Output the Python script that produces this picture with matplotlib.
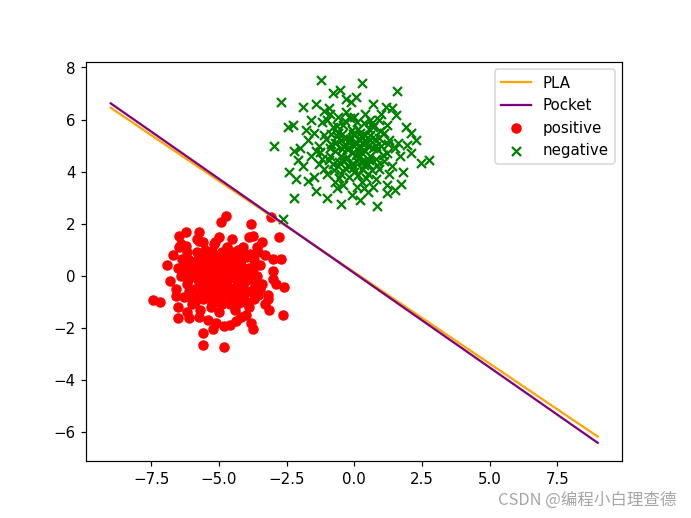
import matplotlib.pyplot as plt

# 直线两端点
line_x = [-9, 9]
pla_y = [6.45, -6.18]
pocket_y = [6.62, -6.42]

# 正样本 (红点)
pos = [
    (-5.0, 0.1), (-4.8, -0.3), (-5.3, 0.4), (-4.6, 0.2), (-5.5, -0.2), (-4.9, 0.6), (-5.2, -0.6), (-4.4, -0.1), (-5.7, 0.3), (-4.7, -0.7),
    (-5.1, -0.9), (-4.3, 0.5), (-5.9, -0.5), (-4.5, 0.9), (-5.4, 0.8), (-4.1, -0.4), (-6.0, 0.1), (-4.2, 0.2), (-5.6, -0.9), (-4.9, -1.1),
    (-3.9, 0.3), (-6.2, -0.3), (-5.3, -1.2), (-4.6, -0.9), (-3.8, -0.6), (-6.1, 0.6), (-5.8, 0.9), (-4.0, 0.7), (-4.4, -1.3), (-5.0, -1.4),
    (-3.6, 0.0), (-6.4, 0.0), (-5.5, 1.0), (-4.7, 1.1), (-3.7, -0.9), (-6.3, -0.8), (-3.5, 0.4), (-5.2, 1.2), (-4.3, 1.0), (-6.0, -1.1),
    (-5.7, -1.3), (-3.9, -1.2), (-4.1, -0.8), (-4.8, 0.4), (-5.1, 0.2), (-5.4, -0.4), (-4.5, -0.5), (-4.9, -0.1), (-5.3, -0.1), (-4.6, 0.6),
    (-5.6, 0.5), (-4.2, -0.2), (-5.8, -0.1), (-4.0, 0.1), (-5.9, 0.4), (-3.4, -0.3), (-6.5, 0.3), (-3.3, 0.8), (-6.6, -0.5), (-4.4, 0.3),
    (-5.0, 0.8), (-5.2, -0.3), (-4.7, -0.2), (-5.0, -0.6), (-4.3, -0.6), (-5.5, 0.1), (-4.8, 0.0), (-5.4, 0.5), (-4.6, -1.1), (-5.7, -0.7),
    (-3.7, 0.6), (-6.2, 0.9), (-3.5, -0.5), (-6.3, 0.4), (-4.1, 1.1), (-5.1, -1.0), (-4.0, -1.0), (-5.9, -1.0), (-3.6, 1.1), (-6.1, -0.6),
    (-4.5, 0.0), (-5.3, 0.7), (-4.9, 0.9), (-5.6, -0.4), (-4.2, 0.6), (-3.8, 0.0), (-6.0, 0.3), (-4.7, 0.3), (-5.2, 0.0), (-4.4, -0.9),
    (-5.8, 1.4), (-6.7, 0.8), (-3.2, -0.9), (-3.4, 1.3), (-6.8, -0.2), (-4.2, -1.6), (-5.4, -1.7), (-6.2, -1.4), (-3.0, 0.2), (-5.0, 1.5),
    (-4.5, 1.4), (-6.4, 1.2), (-3.9, 1.5), (-5.1, -1.8), (-4.6, -1.9), (-3.3, -1.1), (-6.5, -1.2), (-2.9, -0.3), (-4.0, -1.5), (-5.6, 1.3),
    (-5.35, 0.25), (-4.65, -0.45), (-5.15, 0.55), (-4.35, 0.05), (-5.75, -0.25), (-4.85, 0.75), (-5.45, -0.75), (-4.15, 0.35),
    (-5.95, 0.15), (-4.55, -0.75), (-5.25, -1.05), (-3.95, -0.15), (-6.15, -0.15), (-4.75, 0.55), (-5.65, 0.75), (-4.05, -0.65),
    (-6.35, 0.65), (-3.75, 0.25), (-5.05, -0.25), (-4.45, 0.65), (-5.55, -0.55), (-4.25, -1.05), (-5.85, 0.55), (-3.85, 0.85),
    (-4.95, -0.85), (-5.45, 0.35), (-4.65, 0.85), (-6.05, -0.85), (-3.65, -0.35), (-5.25, 0.95), (-4.35, -0.35), (-5.05, 0.45),
    (-4.85, -0.55), (-5.65, 0.05), (-4.15, 0.85), (-3.55, -0.75), (-6.25, 0.15), (-4.55, 0.45), (-5.35, -0.45), (-4.95, 0.15),
    (-4.74, 2.30), (-4.92, 2.05), (-3.81, 1.98), (-3.08, 2.24), (-2.77, 1.47), (-6.92, 0.42), (-7.44, -0.95), (-7.19, -1.01),
    (-6.58, -0.79), (-6.52, -1.64), (-2.59, -0.44), (-2.65, -1.52), (-3.14, -1.33), (-5.60, -2.22), (-5.60, -2.66), (-4.82, -2.75),
    (-4.80, -1.92), (-4.37, -1.75), (-3.81, -1.80), (-3.75, -2.06), (-5.23, -2.03), (-6.46, 1.53), (-6.21, 1.66), (-5.72, 1.66),
    (-6.46, 1.09), (-6.21, 1.16), (-5.72, 1.34), (-5.13, 1.28), (-3.75, 1.53), (-3.57, 0.90), (-3.02, 0.64), (-2.71, 0.64),
    (-3.02, -0.12), (-3.20, -0.76), (-6.09, -1.64), (-5.72, -1.58),
]

# 负样本 (绿叉)
neg = [
    (0.0, 5.0), (-0.3, 5.3), (0.4, 4.8), (-0.5, 4.6), (0.2, 5.5), (-0.1, 4.3), (0.6, 5.2), (-0.7, 5.1), (0.3, 4.1), (-0.4, 5.8),
    (0.8, 4.5), (-0.9, 4.9), (0.1, 5.9), (0.5, 3.9), (-0.6, 4.2), (1.0, 5.0), (-1.1, 5.4), (0.7, 5.7), (-0.2, 3.8), (0.9, 4.1),
    (-0.8, 5.7), (1.2, 4.7), (-1.2, 4.5), (0.0, 6.1), (0.3, 3.6), (-0.5, 3.9), (1.1, 5.5), (-1.0, 6.0), (0.6, 6.0), (-1.3, 5.0),
    (0.2, 4.6), (-0.2, 4.9), (0.4, 5.4), (-0.4, 5.0), (0.1, 4.4), (-0.6, 5.5), (0.7, 4.9), (-0.3, 4.5), (0.5, 4.3), (-0.1, 5.6),
    (0.9, 5.3), (-0.8, 4.3), (1.3, 5.2), (-1.4, 4.8), (0.8, 3.7), (-0.7, 3.6), (1.4, 4.2), (-1.2, 5.9), (1.0, 6.2), (-0.3, 6.3),
    (0.0, 4.0), (0.3, 5.1), (-0.5, 5.2), (0.6, 4.6), (-0.9, 4.6), (0.2, 5.2), (-0.2, 4.2), (1.1, 4.4), (-1.1, 4.1), (0.4, 6.2),
    (-0.6, 6.1), (1.2, 5.8), (-1.5, 5.5), (1.5, 4.9), (0.1, 3.4), (-0.4, 3.5), (0.7, 3.4), (-1.0, 3.9), (1.3, 3.9), (-1.3, 4.3),
    (0.0, 5.4), (0.5, 5.0), (-0.2, 5.1), (0.3, 4.4), (-0.7, 4.8), (0.8, 5.0), (-0.1, 4.7), (0.2, 4.9), (-0.4, 4.4), (0.6, 5.4),
    (1.6, 5.1), (-1.6, 4.6), (0.9, 6.0), (-0.9, 6.2), (1.7, 4.6), (-1.5, 3.8), (1.2, 3.5), (-0.1, 3.1), (0.5, 3.2), (-1.7, 5.2),
    (-0.15, 5.25), (0.25, 4.75), (-0.45, 4.85), (0.45, 5.15), (-0.25, 4.55), (0.15, 5.65), (-0.65, 5.35), (0.55, 4.45),
    (-0.05, 4.15), (0.35, 5.85), (-0.85, 5.05), (0.85, 4.85), (-0.35, 5.95), (0.65, 4.05), (-0.55, 4.35), (0.05, 5.15),
    (0.95, 5.55), (-0.95, 4.45), (0.15, 3.85), (-0.15, 6.05), (0.75, 5.25), (-0.75, 4.05), (0.45, 3.75), (-0.45, 5.45),
    (1.05, 4.65), (-1.05, 5.25), (0.25, 5.35), (-0.25, 4.85), (0.55, 5.65), (-0.55, 3.75), (1.25, 5.05), (-1.25, 4.75),
    (0.05, 4.65), (-0.05, 5.45), (0.35, 4.25), (-0.35, 4.15), (0.65, 5.85), (-0.65, 5.75), (0.85, 4.25), (-0.85, 5.45),
    (-1.23, 7.52), (0.30, 7.39), (-0.53, 7.13), (1.57, 7.10), (-2.71, 6.69), (-1.91, 6.50), (0.06, 6.88), (-0.13, 6.69),
    (-2.46, 5.73), (-2.28, 5.80), (-1.60, 5.99), (-2.96, 4.97), (-2.22, 4.78), (-2.09, 4.46), (-2.16, 3.70), (-2.22, 3.00),
    (-1.72, 3.63), (-1.42, 3.25), (-0.50, 2.74), (0.85, 2.68), (1.71, 3.51), (2.45, 4.34), (2.76, 4.46), (2.08, 5.48),
    (1.41, 6.43), (1.16, 6.50), (1.53, 6.18), (1.96, 5.03), (1.22, 3.19), (0.36, 3.38), (-0.62, 3.38), (-1.11, 6.31),
    (-0.93, 6.43), (-2.65, 2.17),
    (-1.8, 5.6), (-2.0, 4.9), (1.8, 4.0), (1.9, 5.7), (-1.9, 4.2), (2.1, 4.7), (-0.8, 7.0), (0.7, 6.6), (-1.4, 6.6), (1.5, 3.3),
    (-1.0, 3.0), (0.2, 2.9), (2.3, 5.2), (-2.4, 4.0), (-0.3, 6.8),
]

pos_x = [p[0] for p in pos]
pos_y = [p[1] for p in pos]
neg_x = [p[0] for p in neg]
neg_y = [p[1] for p in neg]

fig, ax = plt.subplots(figsize=(6.4, 4.8), dpi=108)
ax.plot(line_x, pla_y, color="orange", label="PLA")
ax.plot(line_x, pocket_y, color="purple", label="Pocket")
ax.scatter(pos_x, pos_y, color="red", marker="o", label="positive")
ax.scatter(neg_x, neg_y, color="green", marker="x", label="negative")
ax.legend(loc="upper right")

# 水印
fig.text(0.979, 0.018, "CSDN @编程小白理查德", ha="right", va="bottom", fontsize=11,
         color="#a6a6a6", family=["Noto Sans CJK SC", "DejaVu Sans"])

fig.savefig("out.png")
